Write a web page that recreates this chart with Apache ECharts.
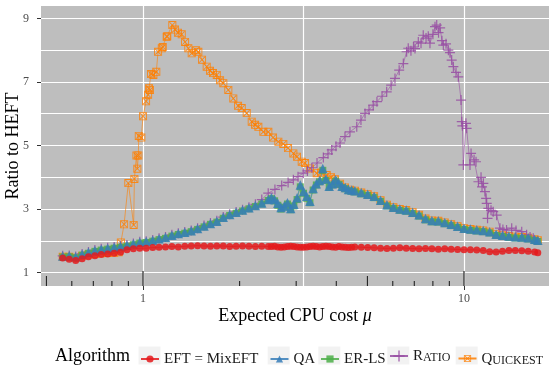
<!DOCTYPE html>
<html><head><meta charset="utf-8">
<script src="https://cdn.jsdelivr.net/npm/echarts@6/dist/echarts.min.js"></script>
<style>html,body{margin:0;padding:0;background:#fff}#c{width:552px;height:365px}</style>
</head><body><div id="c"></div>
<script>
// ---- data ----
const MU = [0.562,0.589,0.617,0.646,0.676,0.708,0.741,0.776,0.813,0.851,0.891,0.933,0.977,1.023,1.072,1.122,1.175,1.230,1.288,1.349,1.413,1.479,1.549,1.622,1.698,1.778,1.862,1.950,2.042,2.138,2.239,2.344,2.455,
  2.512,2.570,2.630,2.692,2.754,2.818,2.884,2.951,3.020,3.090,3.162,3.236,3.311,3.388,3.467,3.548,3.631,3.715,3.802,3.890,3.981,4.074,4.169,4.266,4.365,4.467,4.571,
  4.786,5.012,5.248,5.495,5.754,6.026,6.310,6.607,6.918,7.244,7.586,7.943,8.318,8.710,9.120,9.550,10.00,10.47,10.96,11.48,12.02,12.59,13.18,13.80,14.45,15.14,15.85,16.60,16.98];
const EFT = [1.46,1.42,1.38,1.44,1.50,1.53,1.57,1.59,1.61,1.64,1.72,1.75,1.77,1.77,1.79,1.80,1.81,1.82,1.81,1.83,1.84,1.85,1.84,1.83,1.84,1.84,1.82,1.83,1.84,1.83,1.82,1.83,1.82,
  1.82,1.83,1.81,1.80,1.81,1.82,1.83,1.82,1.81,1.80,1.80,1.81,1.82,1.83,1.82,1.81,1.82,1.83,1.82,1.81,1.80,1.82,1.81,1.80,1.79,1.80,1.81,
  1.80,1.79,1.78,1.77,1.76,1.77,1.78,1.77,1.76,1.75,1.76,1.75,1.74,1.75,1.74,1.73,1.72,1.72,1.71,1.70,1.66,1.65,1.67,1.70,1.70,1.69,1.67,1.65,1.63];
const QA = [1.52,1.53,1.50,1.58,1.64,1.70,1.74,1.77,1.80,1.83,1.86,1.91,1.96,1.98,2.02,2.07,2.11,2.18,2.23,2.27,2.32,2.39,2.47,2.55,2.62,2.74,2.83,2.90,2.97,3.04,3.11,3.19,3.30,
  3.36,3.30,3.18,3.05,3.10,3.20,3.02,3.15,3.36,3.76,3.55,3.40,3.25,3.65,3.80,3.90,4.28,3.95,3.72,3.80,3.92,3.82,3.72,3.68,3.62,3.60,3.58,
  3.52,3.47,3.40,3.28,3.14,3.06,3.00,2.97,2.90,2.82,2.70,2.64,2.63,2.58,2.52,2.46,2.40,2.37,2.35,2.33,2.29,2.21,2.18,2.15,2.13,2.12,2.10,2.05,2.02];
const ERLS = [1.49,1.50,1.47,1.55,1.61,1.67,1.71,1.74,1.77,1.80,1.83,1.88,1.93,1.95,1.99,2.04,2.08,2.15,2.20,2.24,2.29,2.36,2.44,2.52,2.59,2.71,2.80,2.87,2.94,3.01,3.08,3.16,3.27,
  3.33,3.26,3.12,3.00,3.06,3.16,2.98,3.10,3.30,3.70,3.50,3.34,3.20,3.60,3.76,3.86,4.22,3.90,3.68,3.76,3.88,3.78,3.68,3.64,3.58,3.56,3.54,
  3.48,3.43,3.36,3.24,3.10,3.02,2.96,2.93,2.86,2.78,2.66,2.60,2.59,2.54,2.48,2.42,2.36,2.33,2.31,2.29,2.25,2.17,2.14,2.11,2.09,2.08,2.06,2.01,1.98];
const RATIO_MU = [0.562,0.589,0.617,0.646,0.676,0.708,0.741,0.776,0.813,0.851,0.891,0.933,0.977,1.023,1.072,1.122,1.175,1.230,1.288,1.349,1.413,1.479,1.549,1.622,1.698,1.778,1.862,1.950,2.042,2.138,2.239,
  2.344,2.455,2.576,2.704,2.831,2.940,3.040,3.157,3.252,3.357,3.484,3.646,3.770,3.873,3.992,4.109,4.258,4.413,4.633,4.775,4.917,5.059,5.214,5.356,5.554,5.743,5.928,6.095,6.281,6.471,
  6.626,6.703,6.834,6.961,7.037,7.206,7.346,7.465,7.616,7.739,7.834,8.002,8.122,8.222,8.330,8.426,8.537,8.622,8.790,8.939,9.042,9.154,9.265,9.443,9.600,
  9.790,9.841,9.885,9.954,10.14,10.19,10.44,10.52,10.75,10.90,11.09,11.30,11.38,11.49,11.62,11.72,11.77,11.84,11.91,12.14,12.33,12.64,12.94,13.22,13.57,14.08,14.52,15.13,15.67,16.06,16.44];
const RATIO = [1.53,1.54,1.51,1.59,1.65,1.71,1.75,1.78,1.81,1.84,1.87,1.92,1.97,1.99,2.03,2.08,2.12,2.19,2.24,2.28,2.33,2.40,2.48,2.56,2.63,2.75,2.84,2.91,2.98,3.06,3.15,
  3.30,3.50,3.62,3.74,3.84,3.92,4.02,4.13,4.20,4.30,4.45,4.62,4.74,4.86,4.98,5.08,5.28,5.43,5.59,5.80,6.01,6.12,6.27,6.38,6.55,6.69,6.90,7.11,7.37,7.58,
  7.95,8.06,7.98,8.10,8.05,8.26,8.22,8.47,8.38,8.44,8.22,8.50,8.74,8.79,8.55,8.70,8.30,8.16,8.20,8.00,7.92,7.69,7.48,7.30,7.16,
  6.43,5.75,5.62,4.39,5.70,5.54,4.39,4.75,4.55,4.49,3.86,4.00,3.70,3.81,3.55,3.34,3.18,2.71,3.02,2.96,2.92,2.81,2.40,2.36,2.34,2.40,2.33,2.29,2.19,2.12,2.08];
const QUICK_MU = [0.562,0.589,0.617,0.646,0.676,0.708,0.741,0.776,0.813,0.840,0.853,0.873,0.900,0.935,0.940,0.954,0.960,0.967,0.970,0.988,1.000,1.022,1.037,1.044,1.051,1.059,1.077,1.100,1.114,1.144,1.152,1.185,1.190,
  1.234,1.258,1.285,1.320,1.352,1.384,1.418,1.463,1.487,1.527,1.579,1.617,1.652,1.697,1.738,1.779,1.844,1.911,1.977,2.030,2.104,2.181,2.234,2.287,2.371,2.457,2.541,2.640,2.736,2.830,2.940,3.018,3.122,3.197,3.313,3.476,3.585,3.735,3.852,3.965,4.110,4.259,4.414,4.575,
  4.786,5.012,5.248,5.495,5.754,6.026,6.310,6.607,6.918,7.244,7.586,7.943,8.318,8.710,9.120,9.550,10.00,10.47,10.96,11.48,12.02,12.59,13.18,13.80,14.45,15.14,15.85,16.60,16.98];
const QUICK = [1.50,1.50,1.47,1.53,1.57,1.59,1.61,1.62,1.63,1.64,1.95,2.52,3.82,2.50,3.95,4.69,4.27,4.69,5.30,5.25,5.92,6.39,6.60,6.80,6.75,7.25,7.22,7.32,7.95,8.06,8.10,8.42,8.44,
  8.79,8.65,8.55,8.50,8.26,8.06,7.90,8.00,7.95,7.70,7.48,7.35,7.28,7.22,7.05,6.96,6.75,6.48,6.25,6.18,6.02,5.75,5.65,5.59,5.43,5.43,5.25,5.12,5.05,4.92,4.75,4.65,4.49,4.45,4.28,4.13,4.15,4.07,4.00,3.94,3.80,3.68,3.61,3.58,
  3.52,3.47,3.40,3.28,3.14,3.06,3.00,2.97,2.90,2.82,2.70,2.64,2.63,2.58,2.52,2.46,2.40,2.37,2.35,2.33,2.29,2.21,2.18,2.15,2.13,2.12,2.10,2.05,2.02];
const NAMES = ['EFT = MixEFT','QA','ER-LS','Ratio','Quickest'];
const X_LABELS = [1, 10];
const Y_LABELS = [1, 3, 5, 7, 9];
const Y_GRID = [1, 2, 3, 4, 5, 6, 7, 8, 9];
const X_GRID = [1, 3.1623, 10];
const LOG_TICKS = [0.5,0.6,0.7,0.8,0.9,1,2,3,4,5,6,7,8,9,10];

// ---- chart ----
const FONT = '"Liberation Serif", "DejaVu Serif", serif';
const X_MIN = 0.481, X_MAX = 18.4, Y_MIN = 0.58, Y_MAX = 9.39;
const COLORS = ['#E41A1C','#377EB8','#4DAF4A','#984EA3','#FF7F00'];
const PLUS = 'path://M4.4,0H5.6V4.4H10V5.6H5.6V10H4.4V5.6H0V4.4H4.4Z';
const SQX = 'path://M0,0H10V10H0Z M1.1,1.1V8.9H8.9V1.1Z M1.1,1.9L1.9,1.1L8.9,8.1L8.1,8.9Z M8.1,1.1L8.9,1.9L1.9,8.9L1.1,8.1Z';

const pairs = (xs, ys) => xs.map((x, i) => [x, ys[i]]);

function mkSeries(name, data, color, symbol, size, z) {
  return {
    name, type: 'line', data, z,
    symbol, symbolSize: size, showSymbol: true, showAllSymbol: true,
    lineStyle: { color, width: 0.7, opacity: 0.85 },
    itemStyle: { color, opacity: 0.85 },
    emphasis: { disabled: true }, animation: false, clip: true
  };
}

const chart = echarts.init(document.getElementById('c'), null, { renderer: 'canvas' });

const legendPos = [140, 269.5, 320, 389, 457.5];
const legends = NAMES.map((n, i) => {
  const small = (n === 'Ratio' || n === 'Quickest');
  const ih = n === 'Ratio' ? 14 : 9;
  return {
    data: [n], left: legendPos[i], top: 356 - ih / 2, padding: 0, itemGap: 0,
    itemWidth: 18, itemHeight: ih, textGap: 6, selectedMode: false,
    formatter: small ? (name => '{a|' + name[0] + '}{b|' + name.slice(1).toUpperCase() + '}') : undefined,
    textStyle: { fontFamily: FONT, fontSize: 15, color: '#1a1a1a',
      rich: { a: { fontFamily: FONT, fontSize: 15, color: '#1a1a1a', verticalAlign: 'bottom', lineHeight: 16 },
              b: { fontFamily: FONT, fontSize: 12, color: '#1a1a1a', verticalAlign: 'bottom', lineHeight: 14 } } }
  };
});

const keyBgX = [138.5, 267.7, 318.3, 387.3, 455.7];

chart.setOption({
  animation: false,
  backgroundColor: '#ffffff',
  grid: { left: 41, top: 6, width: 508, height: 280, show: true, backgroundColor: '#bebebe', borderWidth: 0,
    outerBoundsMode: 'none', containLabel: false },
  xAxis: {
    type: 'log', logBase: 10, min: X_MIN, max: X_MAX,
    name: 'Expected CPU cost {i|μ}', nameLocation: 'middle', nameGap: 21, nameMoveOverlap: false,
    nameTextStyle: { fontFamily: FONT, fontSize: 18, color: '#000',
      rich: { i: { fontFamily: FONT, fontSize: 18, fontStyle: 'italic', color: '#000' } } },
    axisLine: { show: false },
    axisTick: { show: true, length: 4, customValues: X_LABELS, lineStyle: { color: '#333', width: 1 } },
    axisLabel: { customValues: X_LABELS, margin: 7, fontFamily: FONT, fontSize: 12, color: '#4d4d4d',
      formatter: v => String(Math.round(v)) },
    splitLine: { show: false }, minorSplitLine: { show: false }
  },
  yAxis: {
    type: 'value', min: Y_MIN, max: Y_MAX,
    name: 'Ratio to HEFT', nameLocation: 'middle', nameGap: 19, nameMoveOverlap: false,
    nameTextStyle: { fontFamily: FONT, fontSize: 18, color: '#000' },
    axisLine: { show: false },
    axisTick: { show: true, length: 4, customValues: Y_LABELS, lineStyle: { color: '#333', width: 1 } },
    axisLabel: { customValues: Y_LABELS, margin: 12, fontFamily: FONT, fontSize: 12, color: '#4d4d4d' },
    splitLine: { show: false }
  },
  legend: legends,
  graphic: [
    { type: 'text', left: 55, top: 347, z: 10,
      style: { text: 'Algorithm', font: '18px ' + FONT, fill: '#000' } },
    ...keyBgX.map(x => ({ type: 'rect', shape: { x: x, y: 346.5, width: 22, height: 18 },
      style: { fill: '#f2f2f2' }, z: -1, silent: true }))
  ],
  series: [
    { type: 'line', data: [[1, Y_MIN]], symbol: 'none', lineStyle: { opacity: 0 }, z: 1, silent: true,
      markLine: { silent: true, symbol: 'none', z: 1, animation: false, label: { show: false },
        lineStyle: { color: '#ffffff', width: 1.2, type: 'solid' },
        emphasis: { disabled: true },
        data: [...X_GRID.map(v => ({ xAxis: v })), ...Y_GRID.map(v => ({ yAxis: v }))] } },
    mkSeries('Quickest', pairs(QUICK_MU, QUICK), COLORS[4], SQX, 8, 2),
    mkSeries('Ratio', pairs(RATIO_MU, RATIO), COLORS[3], PLUS, 10, 2),
    mkSeries('ER-LS', pairs(MU, ERLS), COLORS[2], 'rect', 7, 2),
    mkSeries('QA', pairs(MU, QA), COLORS[1], 'triangle', 9.5, 2),
    mkSeries('EFT = MixEFT', pairs(MU, EFT), COLORS[0], 'circle', 7, 2),
    { type: 'custom', silent: true, z: 4, clip: false,
      data: LOG_TICKS.map(v => [v, Y_MIN]), encode: { x: 0, y: 1 },
      renderItem: (params, api) => {
        const v = api.value(0);
        const p = api.coord([v, Y_MIN]);
        const len = (v === 1 || v === 10) ? 15 : (v === 5 || v === 0.5) ? 10 : 5;
        return { type: 'line', shape: { x1: p[0], y1: p[1], x2: p[0], y2: p[1] - len },
          style: { stroke: (v === 1 || v === 10) ? '#333' : '#000', lineWidth: (v === 1 || v === 10) ? 1.3 : 0.9 } };
      } }
  ]
});
</script></body></html>
